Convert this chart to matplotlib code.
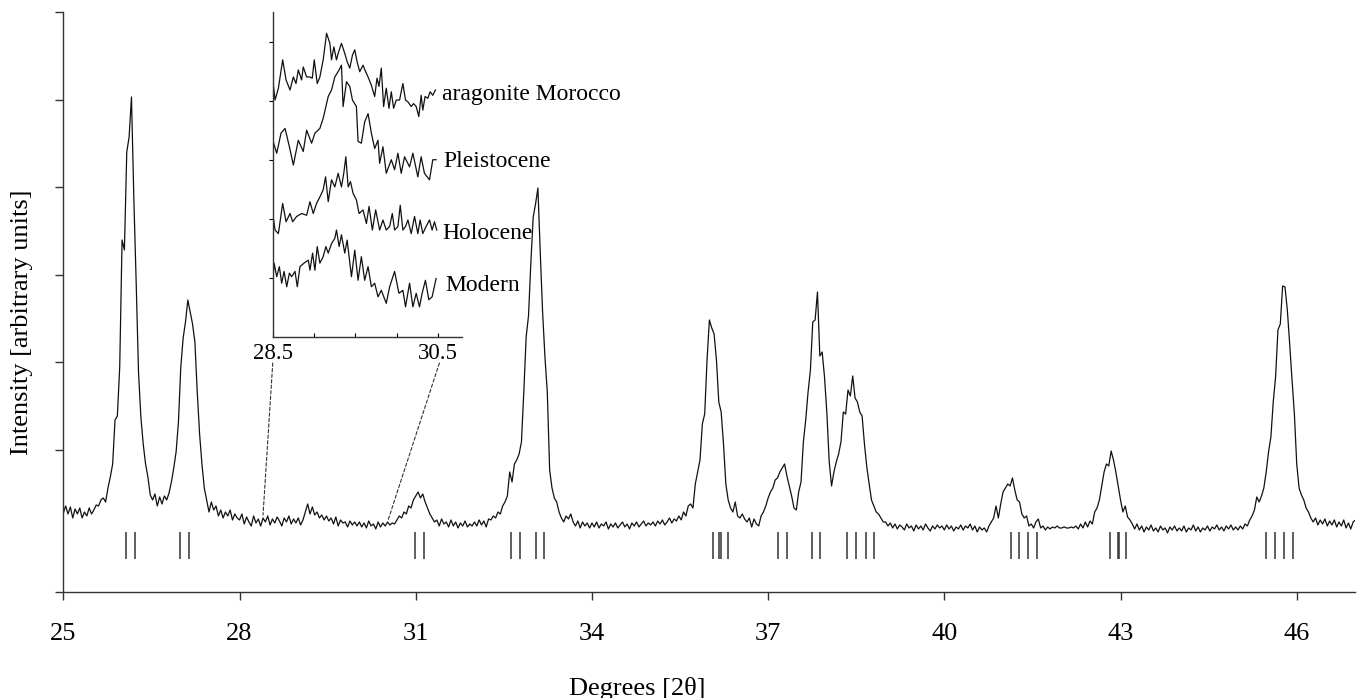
import numpy as np
import matplotlib
matplotlib.use("Agg")
import matplotlib.pyplot as plt
from matplotlib.patches import ConnectionPatch

plt.rcParams["font.family"] = ["Liberation Serif", "DejaVu Serif"]

# XRD scan, step 0.04 deg 2theta, 25 -> 47
two_theta = np.linspace(25, 47, 551)
intensity = [
    # 25.00 - 25.96
    79, 86, 78, 85, 74, 83, 78, 84, 74, 80, 76, 84, 78, 82, 87, 86, 92, 94, 90, 104, 115, 128, 172, 176, 225,
    # 26
    352, 342, 440, 455, 495, 395, 310, 220, 175, 148, 128, 115, 97, 92, 98, 86, 95, 88, 96, 92, 99, 110, 124, 140, 170,
    # 27
    225, 254, 270, 292, 280, 268, 250, 200, 158, 128, 104, 92, 80, 90, 82, 86, 76, 82, 74, 80, 76, 82, 72, 78, 74,
    # 28
    72, 78, 68, 75, 70, 66, 76, 69, 73, 66, 74, 70, 76, 67, 73, 69, 75, 71, 66, 74, 70, 76, 68, 73, 69,
    # 29
    74, 67, 72, 80, 88, 78, 85, 77, 80, 74, 77, 72, 76, 71, 74, 68, 75, 66, 72, 69, 70, 65, 71, 67, 70,
    # 30
    66, 70, 65, 69, 64, 71, 66, 68, 63, 70, 65, 69, 66, 70, 67, 69, 68, 72, 76, 74, 80, 78, 86, 84, 92,
    # 31
    96, 100, 94, 98, 90, 84, 78, 74, 70, 72, 66, 73, 68, 70, 65, 72, 66, 70, 64, 69, 66, 71, 65, 68, 66,
    # 32
    70, 66, 72, 67, 71, 65, 73, 72, 76, 74, 80, 78, 86, 90, 96, 120, 110, 128, 132, 138, 150, 200, 255, 276, 329,
    # 33
    375, 388, 404, 340, 280, 235, 200, 122, 104, 94, 90, 80, 74, 70, 76, 73, 78, 70, 66, 71, 64, 70, 66, 69, 64,
    # 34
    69, 65, 70, 64, 68, 66, 70, 63, 68, 65, 69, 64, 67, 70, 65, 68, 63, 69, 66, 70, 65, 68, 71, 66, 69,
    # 35
    67, 70, 66, 71, 68, 72, 67, 70, 74, 69, 73, 71, 76, 72, 80, 76, 86, 88, 84, 108, 120, 132, 168, 178, 232,
    # 36
    272, 264, 258, 232, 190, 180, 148, 108, 92, 84, 80, 90, 76, 74, 78, 73, 70, 74, 65, 73, 68, 66, 76, 80, 86,
    # 37
    94, 100, 104, 112, 114, 120, 124, 128, 116, 106, 96, 84, 82, 100, 110, 150, 172, 200, 222, 270, 272, 300, 236, 240, 215,
    # 38
    179, 130, 106, 120, 130, 138, 150, 180, 178, 202, 196, 216, 194, 190, 180, 176, 148, 125, 108, 92, 86, 80, 78, 74, 70,
    # 39
    70, 66, 69, 64, 68, 63, 67, 65, 62, 68, 64, 66, 61, 67, 63, 66, 62, 68, 64, 61, 66, 63, 67, 64, 66,
    # 40
    62, 67, 63, 66, 61, 65, 63, 67, 62, 66, 64, 68, 62, 66, 60, 65, 62, 64, 60, 66, 70, 74, 86, 74, 88,
    # 41
    100, 104, 108, 106, 114, 102, 92, 90, 78, 74, 76, 66, 68, 64, 70, 73, 64, 66, 62, 65, 63, 65, 64, 66, 64,
    # 42
    64, 65, 64, 64, 65, 64, 66, 63, 68, 64, 70, 65, 71, 68, 80, 84, 92, 106, 120, 128, 126, 141, 132, 120, 106,
    # 43
    92, 80, 86, 75, 72, 68, 63, 68, 62, 66, 60, 65, 62, 67, 61, 64, 60, 66, 62, 64, 59, 65, 62, 66, 61,
    # 44
    64, 61, 66, 60, 64, 62, 67, 61, 65, 60, 64, 62, 66, 61, 65, 63, 67, 62, 65, 61, 66, 63, 67, 62, 65,
    # 45
    62, 66, 63, 68, 66, 72, 76, 82, 95, 90, 96, 104, 120, 140, 155, 190, 215, 262, 268, 306, 305, 282, 248, 212, 178,
    # 46
    128, 104, 97, 92, 84, 80, 74, 70, 74, 67, 72, 68, 73, 66, 71, 67, 72, 65, 70, 66, 72, 64, 69, 63, 70,
    # 47.00
    72,
]

# reference reflections (tick marks under the pattern)
reflections = [26.07, 26.22, 26.99, 27.14, 30.99, 31.14, 32.63, 32.78, 33.04, 33.19,
               36.06, 36.17, 36.20, 36.32, 37.17, 37.32, 37.74, 37.89, 38.35, 38.50,
               38.66, 38.81, 41.13, 41.27, 41.43, 41.58, 42.82, 42.95, 42.98, 43.09,
               45.48, 45.63, 45.79, 45.93]

# inset: 28.5 - 30.5 region, stacked
morocco_x = [28.500, 28.528, 28.568, 28.620, 28.661, 28.709, 28.749, 28.781, 28.809, 28.849,
             28.869, 28.910, 28.950, 28.978, 29.002, 29.038, 29.070, 29.110, 29.151, 29.191,
             29.211, 29.239, 29.271, 29.291, 29.331, 29.371, 29.400, 29.432, 29.464, 29.492,
             29.520, 29.552, 29.592, 29.624, 29.653, 29.693, 29.733, 29.761, 29.785, 29.813,
             29.841, 29.873, 29.906, 29.934, 29.962, 29.994, 30.034, 30.074, 30.106, 30.135,
             30.175, 30.203, 30.235, 30.267, 30.295, 30.315, 30.343, 30.376, 30.404, 30.436, 30.468]
morocco_y = [4.35, 4.01, 4.21, 4.69, 4.35, 4.18, 4.40, 4.29, 4.52, 4.35,
             4.57, 4.40, 4.40, 4.38, 4.69, 4.29, 4.40, 4.69, 5.14, 4.97,
             4.69, 4.91, 4.69, 4.80, 4.97, 4.80, 4.66, 4.55, 4.77, 4.86,
             4.66, 4.49, 4.60, 4.49, 4.40, 4.26, 4.07, 4.38, 4.24, 4.55,
             3.90, 4.21, 3.87, 4.15, 3.87, 4.01, 4.01, 4.29, 4.01, 3.98,
             3.90, 3.95, 3.90, 3.73, 4.09, 3.84, 4.07, 4.04, 4.15, 4.09, 4.18]

pleisto_x = [28.500, 28.548, 28.600, 28.649, 28.701, 28.749, 28.809, 28.869, 28.910, 28.970,
             29.010, 29.070, 29.110, 29.171, 29.211, 29.251, 29.303, 29.331, 29.351, 29.392,
             29.432, 29.464, 29.512, 29.532, 29.572, 29.612, 29.653, 29.693, 29.733, 29.773,
             29.793, 29.833, 29.873, 29.934, 29.974, 30.014, 30.054, 30.094, 30.155, 30.195,
             30.255, 30.295, 30.335, 30.396, 30.436, 30.476]
pleisto_y = [3.33, 3.11, 3.45, 3.53, 3.22, 2.91, 3.33, 3.14, 3.50, 3.28,
             3.45, 3.53, 3.70, 4.07, 4.18, 4.40, 4.52, 4.60, 3.90, 4.32,
             4.24, 4.01, 3.90, 3.31, 3.28, 3.64, 3.78, 3.45, 3.19, 3.33,
             2.94, 3.22, 2.77, 3.00, 2.83, 3.11, 2.77, 3.05, 2.88, 3.11,
             2.71, 3.05, 2.77, 2.66, 3.00, 3.00]

holo_x = [28.500, 28.528, 28.568, 28.620, 28.661, 28.709, 28.741, 28.789, 28.849, 28.910,
          28.950, 28.990, 29.030, 29.070, 29.110, 29.139, 29.171, 29.211, 29.251, 29.291,
          29.331, 29.359, 29.384, 29.412, 29.440, 29.472, 29.512, 29.544, 29.592, 29.633,
          29.665, 29.705, 29.745, 29.793, 29.833, 29.873, 29.914, 29.946, 29.974, 30.014,
          30.042, 30.074, 30.106, 30.135, 30.175, 30.215, 30.255, 30.283, 30.315, 30.355,
          30.396, 30.428, 30.456, 30.484]
holo_y = [2.09, 1.81, 1.75, 2.26, 1.95, 2.09, 1.95, 2.04, 2.09, 2.06,
          2.29, 2.09, 2.26, 2.37, 2.49, 2.71, 2.29, 2.66, 2.54, 2.77,
          2.54, 2.77, 3.05, 2.54, 2.63, 2.43, 2.32, 2.09, 2.15, 1.92,
          2.21, 1.81, 2.15, 1.81, 1.98, 1.81, 1.87, 2.09, 1.81, 1.87,
          2.23, 1.81, 1.87, 1.98, 1.75, 2.04, 1.75, 1.98, 1.75, 1.87,
          1.98, 1.81, 1.95, 1.81]

modern_x = [28.500, 28.516, 28.548, 28.580, 28.608, 28.637, 28.669, 28.701, 28.729, 28.769,
            28.797, 28.829, 28.878, 28.930, 28.950, 28.982, 29.010, 29.038, 29.070, 29.110,
            29.143, 29.171, 29.211, 29.251, 29.271, 29.303, 29.331, 29.371, 29.400, 29.452,
            29.492, 29.532, 29.572, 29.612, 29.653, 29.693, 29.733, 29.773, 29.813, 29.873,
            29.914, 29.974, 30.026, 30.074, 30.106, 30.155, 30.195, 30.235, 30.275, 30.307,
            30.347, 30.388, 30.428, 30.476]
modern_y = [0.91, 1.25, 1.02, 1.19, 0.91, 1.11, 0.85, 1.08, 1.02, 1.11,
            0.85, 1.19, 1.25, 1.30, 1.13, 1.42, 1.13, 1.53, 1.25, 1.36,
            1.53, 1.42, 1.58, 1.67, 1.81, 1.53, 1.73, 1.42, 1.64, 1.02,
            1.47, 0.96, 1.36, 0.96, 1.19, 0.85, 0.91, 0.68, 0.79, 0.57,
            0.85, 1.11, 0.74, 0.79, 0.51, 0.91, 0.51, 0.74, 0.51, 0.74,
            0.96, 0.63, 0.68, 0.99]

inset_labels = ["aragonite Morocco", "Pleistocene", "Holocene", "Modern"]

fig = plt.figure(figsize=(13.59, 6.98), dpi=100)
ax = fig.add_axes([0.0466, 0.1519, 0.9508, 0.8309])

line_col = "#111111"
ax.plot(two_theta, intensity, color=line_col, lw=0.9)
ax.vlines(reflections, 33, 60, color="#333333", lw=1.1)

ax.set_xlim(25, 47)
ax.set_ylim(0, 580)
ax.set_xticks([25, 28, 31, 34, 37, 40, 43, 46])
ax.set_yticks([0, 142, 229.5, 317, 404.5, 492, 580])
ax.set_yticklabels([])
for s in ["top", "right"]:
    ax.spines[s].set_visible(False)
for s in ["left", "bottom"]:
    ax.spines[s].set_linewidth(1.0)
    ax.spines[s].set_color("#333333")
ax.tick_params(axis="both", direction="out", length=6, width=1.0, color="#333333")
ax.tick_params(axis="x", labelsize=19, pad=16)

fig.text(0.4687, 0.005, "Degrees [2θ]", fontsize=19, ha="center", va="baseline")
fig.text(0.0162, 0.539, "Intensity [arbitrary units]", fontsize=19,
         rotation=90, ha="center", va="center")

# inset
ins = fig.add_axes([0.2007, 0.5172, 0.1393, 0.4656])
ins.patch.set_alpha(0)
for xs, ys in [(morocco_x, morocco_y), (pleisto_x, pleisto_y),
               (holo_x, holo_y), (modern_x, modern_y)]:
    ins.plot(xs, ys, color=line_col, lw=0.9)
ins.set_xlim(28.5, 30.79)
ins.set_ylim(0, 5.5)
ins.set_xticks([28.5, 29, 29.5, 30, 30.5])
ins.set_xticklabels(["28.5", "", "", "", "30.5"])
ins.set_yticks([1, 2, 3, 4, 5])
ins.set_yticklabels([])
for s in ["top", "right"]:
    ins.spines[s].set_visible(False)
for s in ["left", "bottom"]:
    ins.spines[s].set_linewidth(1.0)
    ins.spines[s].set_color("#333333")
ins.tick_params(axis="x", direction="in", length=3, width=0.8, pad=4, labelsize=16.5)
ins.tick_params(axis="y", direction="out", length=3, width=0.8)

label_pos = [(30.548, 4.01), (30.564, 2.88), (30.556, 1.66), (30.584, 0.77)]
for txt, (lx, ly) in zip(inset_labels, label_pos):
    ins.text(lx, ly, txt, fontsize=17, ha="left", va="baseline", clip_on=False)

# dashed zoom connectors
for (xa, ya), (xb, yb) in [((28.5, -0.44), (28.40, 77)), ((30.516, -0.44), (30.53, 72))]:
    con = ConnectionPatch(xyA=(xa, ya), coordsA=ins.transData,
                          xyB=(xb, yb), coordsB=ax.transData,
                          linestyle=(0, (3, 2)), lw=0.8, color="#333333")
    fig.add_artist(con)

fig.savefig("out.png", dpi=100)
